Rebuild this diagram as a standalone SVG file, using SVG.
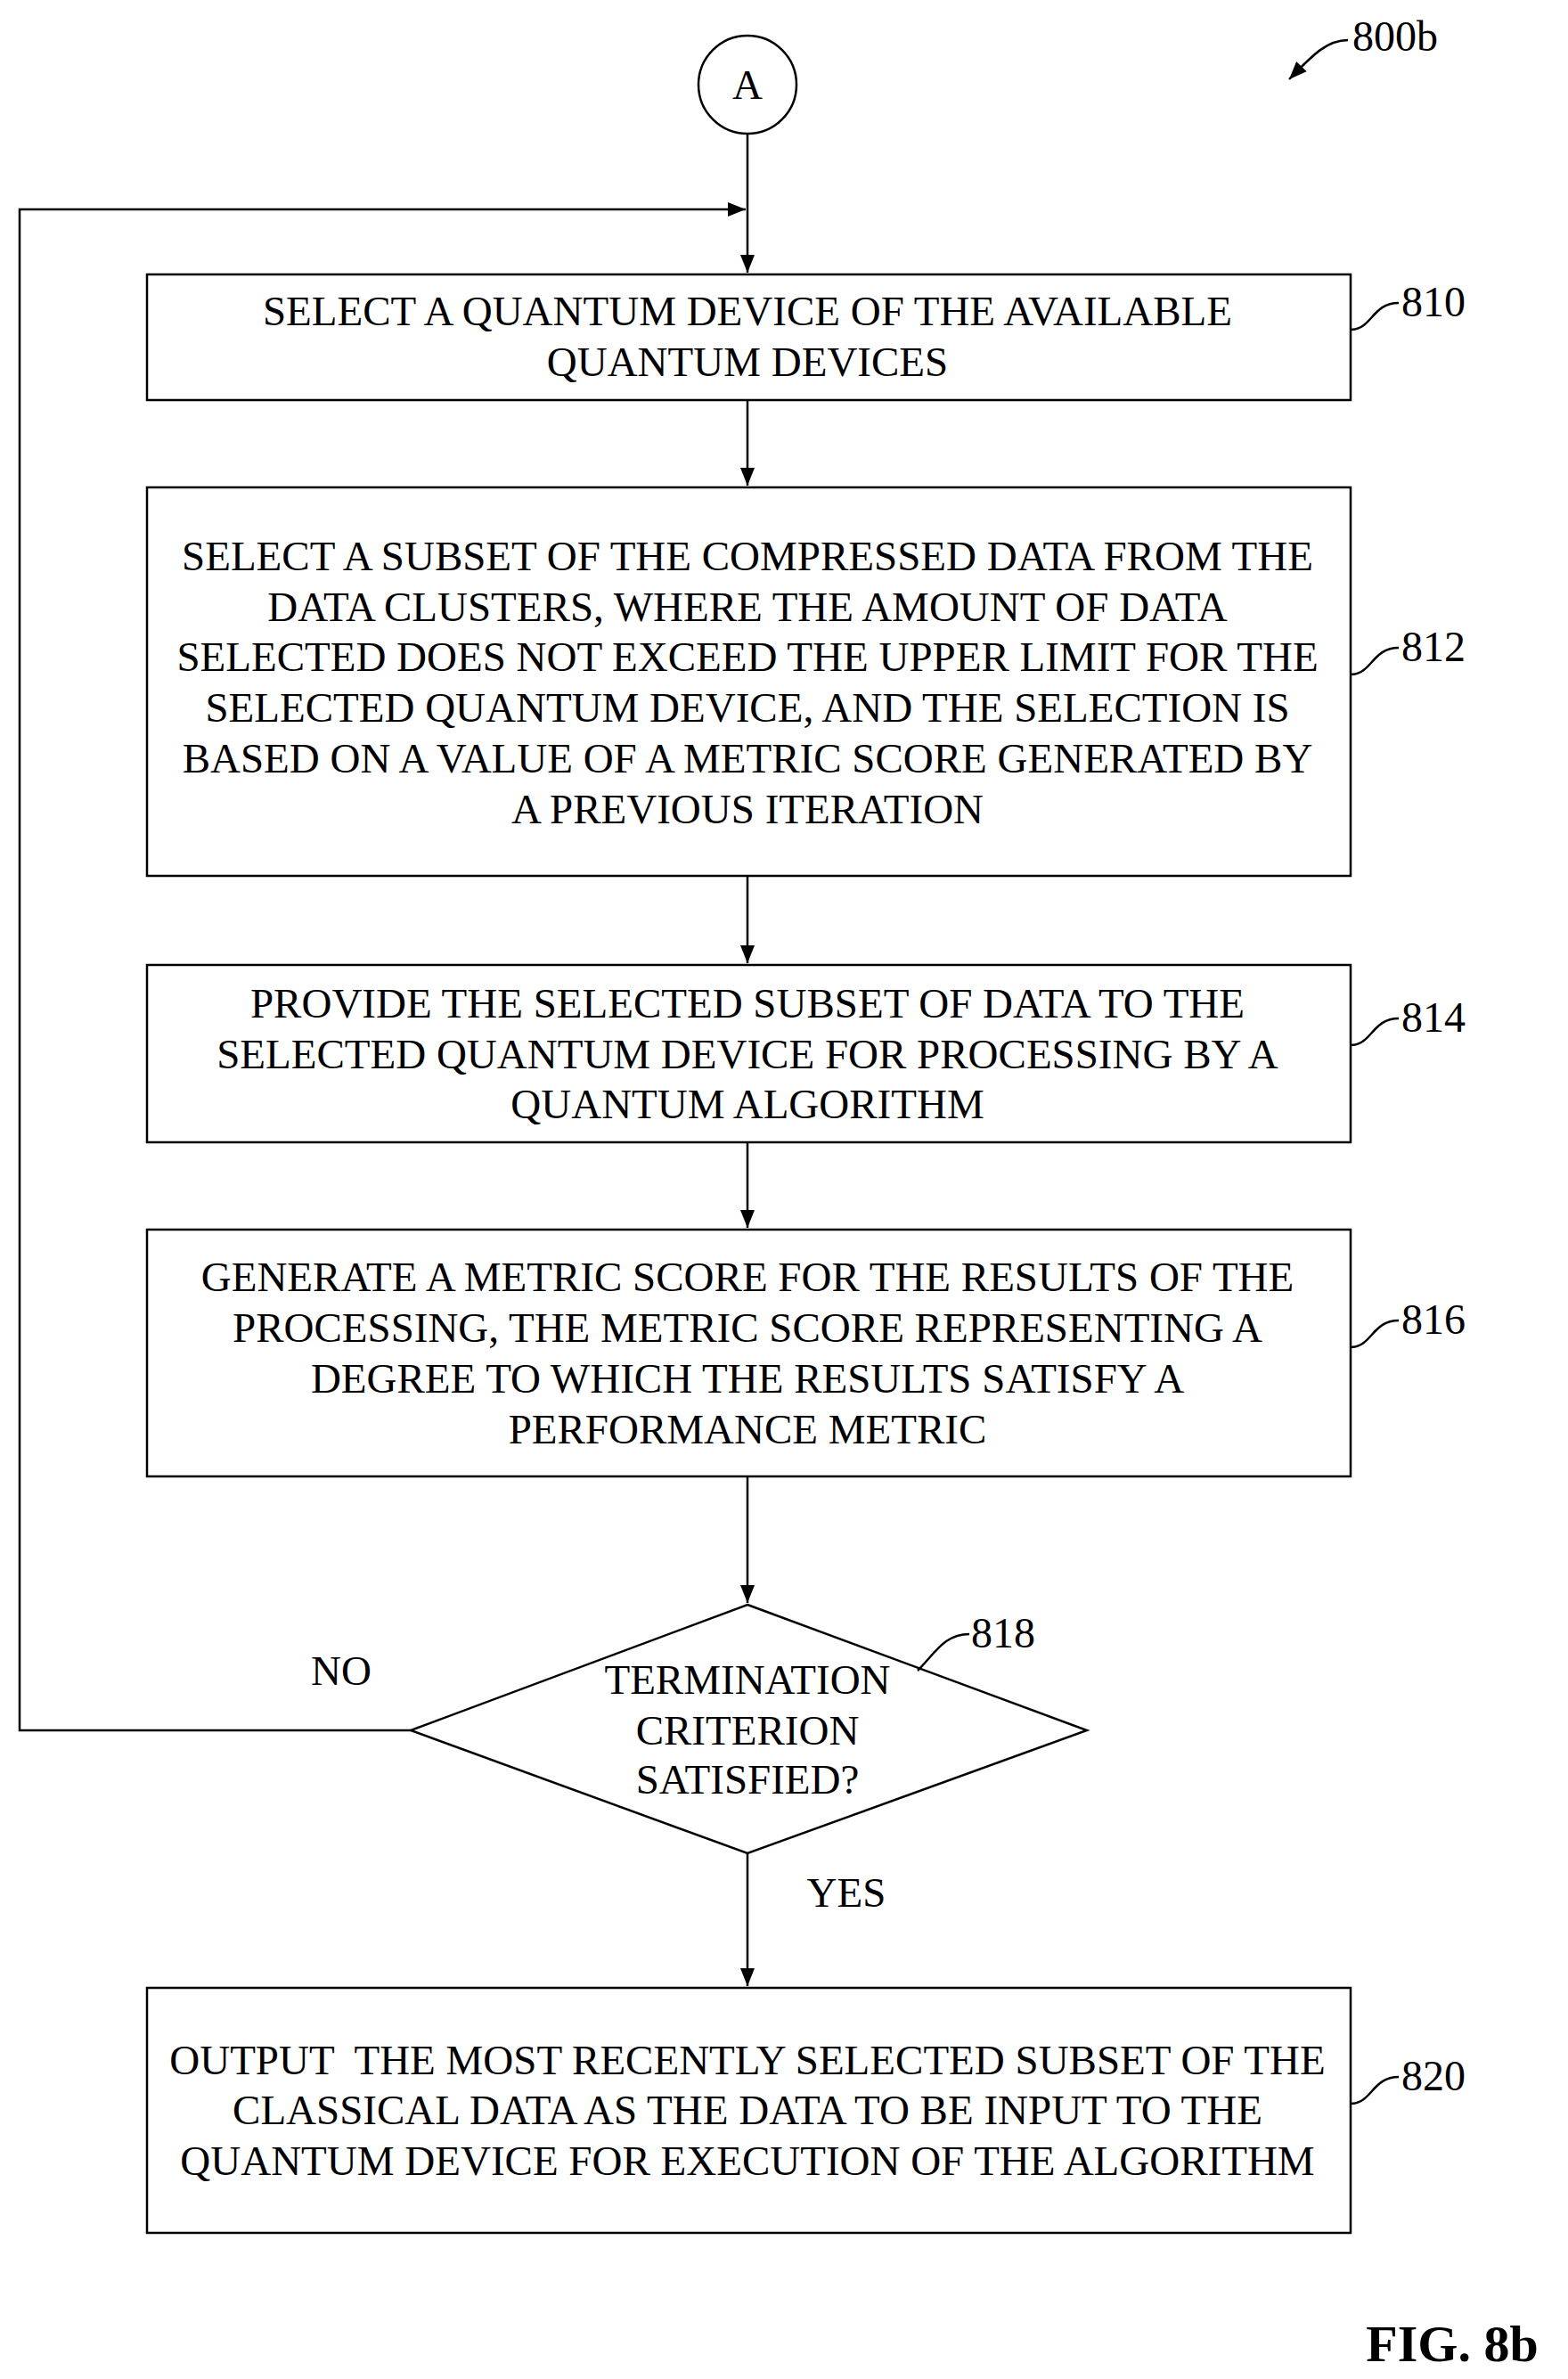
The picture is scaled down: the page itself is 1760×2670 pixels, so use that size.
<svg xmlns="http://www.w3.org/2000/svg" width="1760" height="2670" viewBox="0 0 1760 2670">
<style>
.b{fill:#fff;stroke:#000;stroke-width:2.5}
.l{fill:none;stroke:#000;stroke-width:2.5}
text{font-family:"Liberation Serif",serif;font-size:47px;fill:#000;text-anchor:middle;dominant-baseline:central}
.n{text-anchor:start;font-size:48px}
</style>
<defs>
<marker id="ah" viewBox="0 0 20 20" refX="20" refY="10" markerWidth="20" markerHeight="30" markerUnits="userSpaceOnUse" orient="auto"><path d="M0,2 L20,10 L0,18 Z" fill="#000"/></marker></defs>
<g id="connectors">
<path class="l" d="M839,150 V306" marker-end="url(#ah)"/>
<path class="l" d="M461,1942 H22 V235 H837" marker-end="url(#ah)"/>
<path class="l" d="M839,449 V545" marker-end="url(#ah)"/>
<path class="l" d="M839,983 V1081" marker-end="url(#ah)"/>
<path class="l" d="M839,1282 V1378" marker-end="url(#ah)"/>
<path class="l" d="M839,1657 V1799" marker-end="url(#ah)"/>
<path class="l" d="M839,2080 V2229" marker-end="url(#ah)"/>
<path class="l" d="M1513,45 C1490,45 1475,60 1447,89" marker-end="url(#ah)"/>
</g>
<g id="A"><circle class="b" cx="839" cy="95" r="55"/><text x="839" y="95">A</text></g>
<g id="n810"><rect class="b" x="165" y="308" width="1351" height="141"/><text x="839" y="349">SELECT A QUANTUM DEVICE OF THE AVAILABLE</text><text x="839" y="406">QUANTUM DEVICES</text></g>
<g id="n812"><rect class="b" x="165" y="547" width="1351" height="436"/>
<text x="839" y="624">SELECT A SUBSET OF THE COMPRESSED DATA FROM THE</text>
<text x="839" y="681">DATA CLUSTERS, WHERE THE AMOUNT OF DATA</text>
<text x="839" y="737">SELECTED DOES NOT EXCEED THE UPPER LIMIT FOR THE</text>
<text x="839" y="794">SELECTED QUANTUM DEVICE, AND THE SELECTION IS</text>
<text x="839" y="851">BASED ON A VALUE OF A METRIC SCORE GENERATED BY</text>
<text x="839" y="908">A PREVIOUS ITERATION</text></g>
<g id="n814"><rect class="b" x="165" y="1083" width="1351" height="199"/>
<text x="839" y="1126">PROVIDE THE SELECTED SUBSET OF DATA TO THE</text>
<text x="839" y="1183">SELECTED QUANTUM DEVICE FOR PROCESSING BY A</text>
<text x="839" y="1239">QUANTUM ALGORITHM</text></g>
<g id="n816"><rect class="b" x="165" y="1380" width="1351" height="277"/>
<text x="839" y="1433">GENERATE A METRIC SCORE FOR THE RESULTS OF THE</text>
<text x="839" y="1490">PROCESSING, THE METRIC SCORE REPRESENTING A</text>
<text x="839" y="1547">DEGREE TO WHICH THE RESULTS SATISFY A</text>
<text x="839" y="1604">PERFORMANCE METRIC</text></g>
<g id="n818"><polygon class="b" points="839,1801 1220,1942 839,2080 461,1942"/>
<text x="839" y="1885">TERMINATION</text><text x="839" y="1942">CRITERION</text><text x="839" y="1997">SATISFIED?</text></g>
<g id="n820"><rect class="b" x="165" y="2231" width="1351" height="275"/>
<text x="839" y="2312" xml:space="preserve">OUTPUT  THE MOST RECENTLY SELECTED SUBSET OF THE</text>
<text x="839" y="2368">CLASSICAL DATA AS THE DATA TO BE INPUT TO THE</text>
<text x="839" y="2425">QUANTUM DEVICE FOR EXECUTION OF THE ALGORITHM</text></g>
<g id="labels">
<text x="383" y="1875">NO</text><text x="950" y="2124">YES</text>
<text class="n" x="1573" y="338">810</text><path class="l" d="M1516,370 C1540,370 1540,340 1570,340"/>
<text class="n" x="1573" y="725">812</text><path class="l" d="M1516,757 C1540,757 1540,727 1570,727"/>
<text class="n" x="1573" y="1141">814</text><path class="l" d="M1516,1173 C1540,1173 1540,1143 1570,1143"/>
<text class="n" x="1573" y="1480">816</text><path class="l" d="M1516,1512 C1540,1512 1540,1482 1570,1482"/>
<text class="n" x="1090" y="1832">818</text><path class="l" d="M1030,1875 C1050,1855 1060,1834 1088,1834"/>
<text class="n" x="1573" y="2329">820</text><path class="l" d="M1516,2361 C1540,2361 1540,2331 1570,2331"/>
<text class="n" x="1518" y="40">800b</text>
<text x="1630" y="2630" style="font-size:58px;font-weight:bold">FIG. 8b</text>
</g>
</svg>
